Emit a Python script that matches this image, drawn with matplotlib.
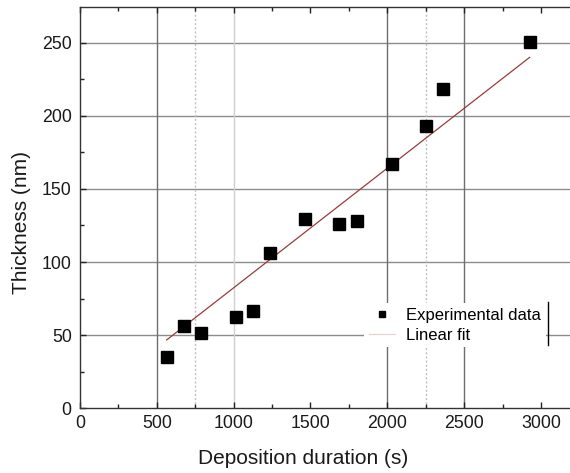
import numpy as np
import matplotlib
matplotlib.use("Agg")
import matplotlib.pyplot as plt
from matplotlib.lines import Line2D
from matplotlib.ticker import MultipleLocator

plt.rcParams['font.family'] = ['Liberation Sans', 'DejaVu Sans']

## Daten
dauer = [564, 677, 785, 1013, 1124, 1236, 1464, 1688, 1800, 2028, 2252, 2364, 2926]    # s
dicke = [35.3, 56.3, 51.5, 62.6, 66.7, 106, 129.2, 125.8, 128, 166.8, 193, 218, 250.2]  # nm

# lineare Regression (Steigung in nm/s, Achsenabschnitt in nm)
fit_m = 0.0818
fit_b = 0.6
fit_x = np.array([dauer[0], dauer[-1]])
fit_y = fit_m * fit_x + fit_b

## Gitterlinien
grid_v_dunkel = [500, 2000, 2500]
grid_v_hell = [1000]
grid_v_punkt = [750, 2250]
grid_h = [50, 100, 150, 200, 250]

## Plotten
fig = plt.figure(figsize=(5.7, 4.73), dpi=100)
ax = fig.add_axes([0.1404, 0.1368, 0.8596, 0.8484])

ax.set_xlim(0, 3189)
ax.set_ylim(0, 274.4)

for g in grid_h:
    ax.axhline(g, color='#8c8c8c', lw=1.0, zorder=0)
for g in grid_v_dunkel:
    ax.axvline(g, color='#6e6e6e', lw=1.0, zorder=0)
for g in grid_v_hell:
    ax.axvline(g, color='#d0d0d0', lw=1.0, zorder=0)
for g in grid_v_punkt:
    ax.axvline(g, color='#c0c0c0', lw=1.0, ls=(0, (1.5, 1.5)), zorder=0)

ax.plot(fit_x, fit_y, color='#9a3b3b', lw=0.9, zorder=2)
ax.plot(dauer, dicke, 's', color='black', ms=8, zorder=3)

ax.spines['right'].set_visible(False)
for s in ['left', 'top', 'bottom']:
    ax.spines[s].set_color('#333333')
    ax.spines[s].set_linewidth(1.0)

ax.xaxis.set_major_locator(MultipleLocator(500))
ax.xaxis.set_minor_locator(MultipleLocator(250))
ax.yaxis.set_major_locator(MultipleLocator(50))
ax.yaxis.set_minor_locator(MultipleLocator(25))
ax.tick_params(which='both', direction='in', top=True, right=False,
               color='#222222', labelcolor='#1a1a1a', labelsize=12.8, width=1.0)
ax.tick_params(which='major', length=4.5)
ax.tick_params(which='minor', length=3)
ax.tick_params(axis='x', pad=5)
ax.tick_params(axis='y', pad=6)

ax.set_xlabel('Deposition duration (s)', fontsize=15, color='#1a1a1a', va='center')
ax.set_ylabel('Thickness (nm)', fontsize=15, color='#1a1a1a', va='center')
ax.xaxis.set_label_coords(0.455, -0.126)
ax.yaxis.set_label_coords(-0.119, 0.463)

handles = [Line2D([], [], marker='s', ls='none', color='black', ms=5),
           Line2D([], [], color='#ead0d0', lw=0.9)]
leg = ax.legend(handles, ['Experimental data', 'Linear fit'],
                loc='upper left', bbox_to_anchor=(0.5796, 0.2624),
                fontsize=12, frameon=True, facecolor='white', edgecolor='none',
                framealpha=1, fancybox=False, borderpad=0.28, borderaxespad=0,
                handlelength=1.6, handletextpad=0.64, labelspacing=0.3)
leg.get_frame().set_linewidth(0)

# rechter Rand der Legende
ax.plot([0.955, 0.955], [0.265, 0.158], transform=ax.transAxes,
        color='black', lw=1.0, zorder=5, clip_on=False)

## Output
fig.savefig('out.png', dpi=100)
